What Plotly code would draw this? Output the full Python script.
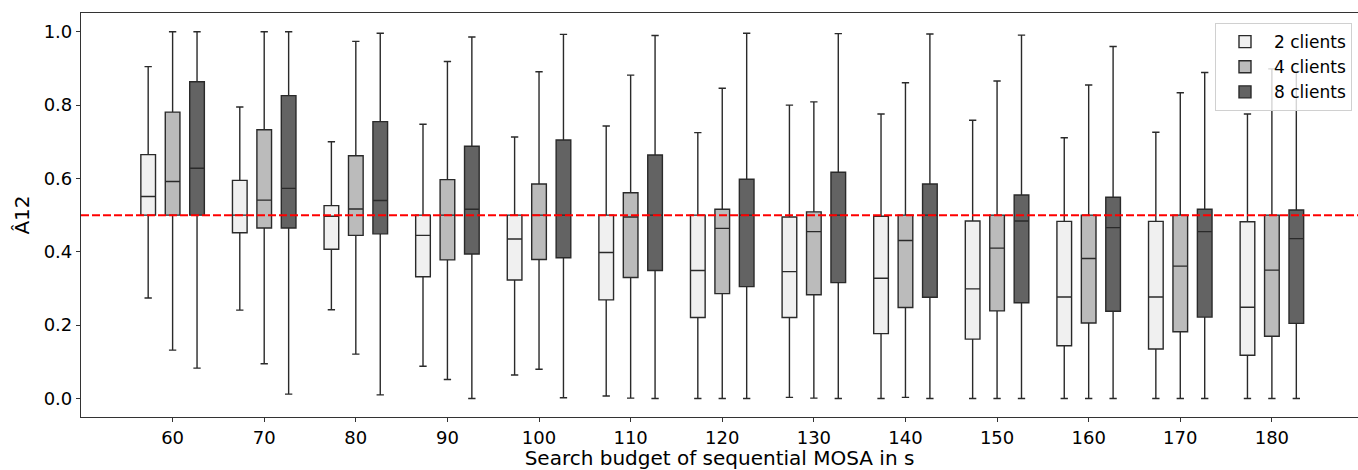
import plotly.graph_objects as go

budgets = [60, 70, 80, 90, 100, 110, 120, 130, 140, 150, 160, 170, 180]

# 2 clients
c2_low = [0.274, 0.241, 0.242, 0.088, 0.064, 0.007, 0.0, 0.003, 0.0, 0.0, 0.0, 0.0, 0.0]
c2_q1 = [0.500, 0.452, 0.407, 0.332, 0.323, 0.269, 0.221, 0.221, 0.177, 0.162, 0.144, 0.135, 0.118]
c2_med = [0.551, 0.500, 0.497, 0.445, 0.435, 0.398, 0.349, 0.346, 0.328, 0.299, 0.277, 0.277, 0.249]
c2_q3 = [0.665, 0.595, 0.526, 0.500, 0.500, 0.500, 0.500, 0.495, 0.497, 0.484, 0.483, 0.483, 0.482]
c2_high = [0.905, 0.795, 0.700, 0.748, 0.713, 0.743, 0.725, 0.800, 0.776, 0.759, 0.711, 0.726, 0.776]

# 4 clients
c4_low = [0.132, 0.095, 0.121, 0.052, 0.080, 0.001, 0.0, 0.001, 0.003, 0.0, 0.0, 0.0, 0.0]
c4_q1 = [0.500, 0.465, 0.445, 0.378, 0.379, 0.330, 0.286, 0.283, 0.248, 0.239, 0.206, 0.182, 0.170]
c4_med = [0.592, 0.541, 0.517, 0.500, 0.500, 0.495, 0.464, 0.455, 0.431, 0.410, 0.382, 0.361, 0.350]
c4_q3 = [0.781, 0.733, 0.662, 0.597, 0.585, 0.561, 0.516, 0.509, 0.500, 0.500, 0.500, 0.500, 0.500]
c4_high = [1.000, 1.000, 0.974, 0.919, 0.891, 0.882, 0.846, 0.809, 0.861, 0.866, 0.855, 0.834, 0.899]

# 8 clients
c8_low = [0.083, 0.012, 0.010, 0.0, 0.002, 0.0, 0.0, 0.0, 0.0, 0.0, 0.0, 0.0, 0.0]
c8_q1 = [0.500, 0.465, 0.449, 0.394, 0.384, 0.349, 0.305, 0.316, 0.276, 0.261, 0.238, 0.222, 0.205]
c8_med = [0.628, 0.573, 0.540, 0.516, 0.500, 0.500, 0.500, 0.500, 0.500, 0.484, 0.466, 0.455, 0.436]
c8_q3 = [0.864, 0.826, 0.755, 0.688, 0.705, 0.664, 0.598, 0.617, 0.585, 0.555, 0.549, 0.516, 0.514]
c8_high = [1.000, 1.000, 0.996, 0.986, 0.993, 0.990, 0.996, 0.995, 0.994, 0.991, 0.960, 0.889, 0.892]

series = [
    ("2 clients", "#f0f0f0", c2_low, c2_q1, c2_med, c2_q3, c2_high),
    ("4 clients", "#bbbbbb", c4_low, c4_q1, c4_med, c4_q3, c4_high),
    ("8 clients", "#636363", c8_low, c8_q1, c8_med, c8_q3, c8_high),
]

fig = go.Figure()
for name, color, lo, q1, med, q3, hi in series:
    fig.add_trace(go.Box(
        name=name, x=budgets, q1=q1, median=med, q3=q3,
        lowerfence=lo, upperfence=hi,
        fillcolor=color, line=dict(color="#2a2a2a", width=1.4),
        boxpoints=False, whiskerwidth=0.5,
    ))

fig.add_hline(y=0.5, line=dict(color="red", width=2, dash="8px,3px"), layer="above")

font_family = "DejaVu Sans"
fig.update_layout(
    width=1358, height=470,
    margin=dict(l=81, r=0, t=13, b=53),
    paper_bgcolor="white", plot_bgcolor="white",
    boxmode="group", boxgap=0.2, boxgroupgap=0.4,
    font=dict(family=font_family, size=18, color="black"),
    legend=dict(
        x=0.9953, y=0.975, xanchor="right", yanchor="top",
        bgcolor="rgba(255,255,255,0.8)", bordercolor="#d0d0d0", borderwidth=1,
        font=dict(size=17), tracegroupgap=0, itemwidth=48,
    ),
    xaxis=dict(
        range=[50, 189.4], tickmode="array", tickvals=budgets,
        ticktext=[str(b) for b in budgets], automargin=False,
        showline=True, linecolor="#333333", linewidth=1.2, mirror=True,
        ticks="outside", ticklen=4, tickcolor="#333333", showgrid=False, zeroline=False,
        title=dict(text="Search budget of sequential MOSA in s", font=dict(size=20), standoff=4),
        tickfont=dict(size=18),
    ),
    yaxis=dict(
        range=[-0.0504, 1.0513], tickvals=[0, 0.2, 0.4, 0.6, 0.8, 1.0],
        tickformat=".1f", automargin=False,
        showline=True, linecolor="#333333", linewidth=1.2, mirror=False,
        ticks="outside", ticklen=4, tickcolor="#333333", showgrid=False, zeroline=False,
        title=dict(text="Â12", font=dict(size=20), standoff=8),
        tickfont=dict(size=18),
    ),
)

# remove the default page margin so the figure fills the window exactly
fig.write_html(
    "out.html",
    config={"displayModeBar": False},
    post_script="document.body.style.margin='0';document.body.style.overflow='hidden';",
)
